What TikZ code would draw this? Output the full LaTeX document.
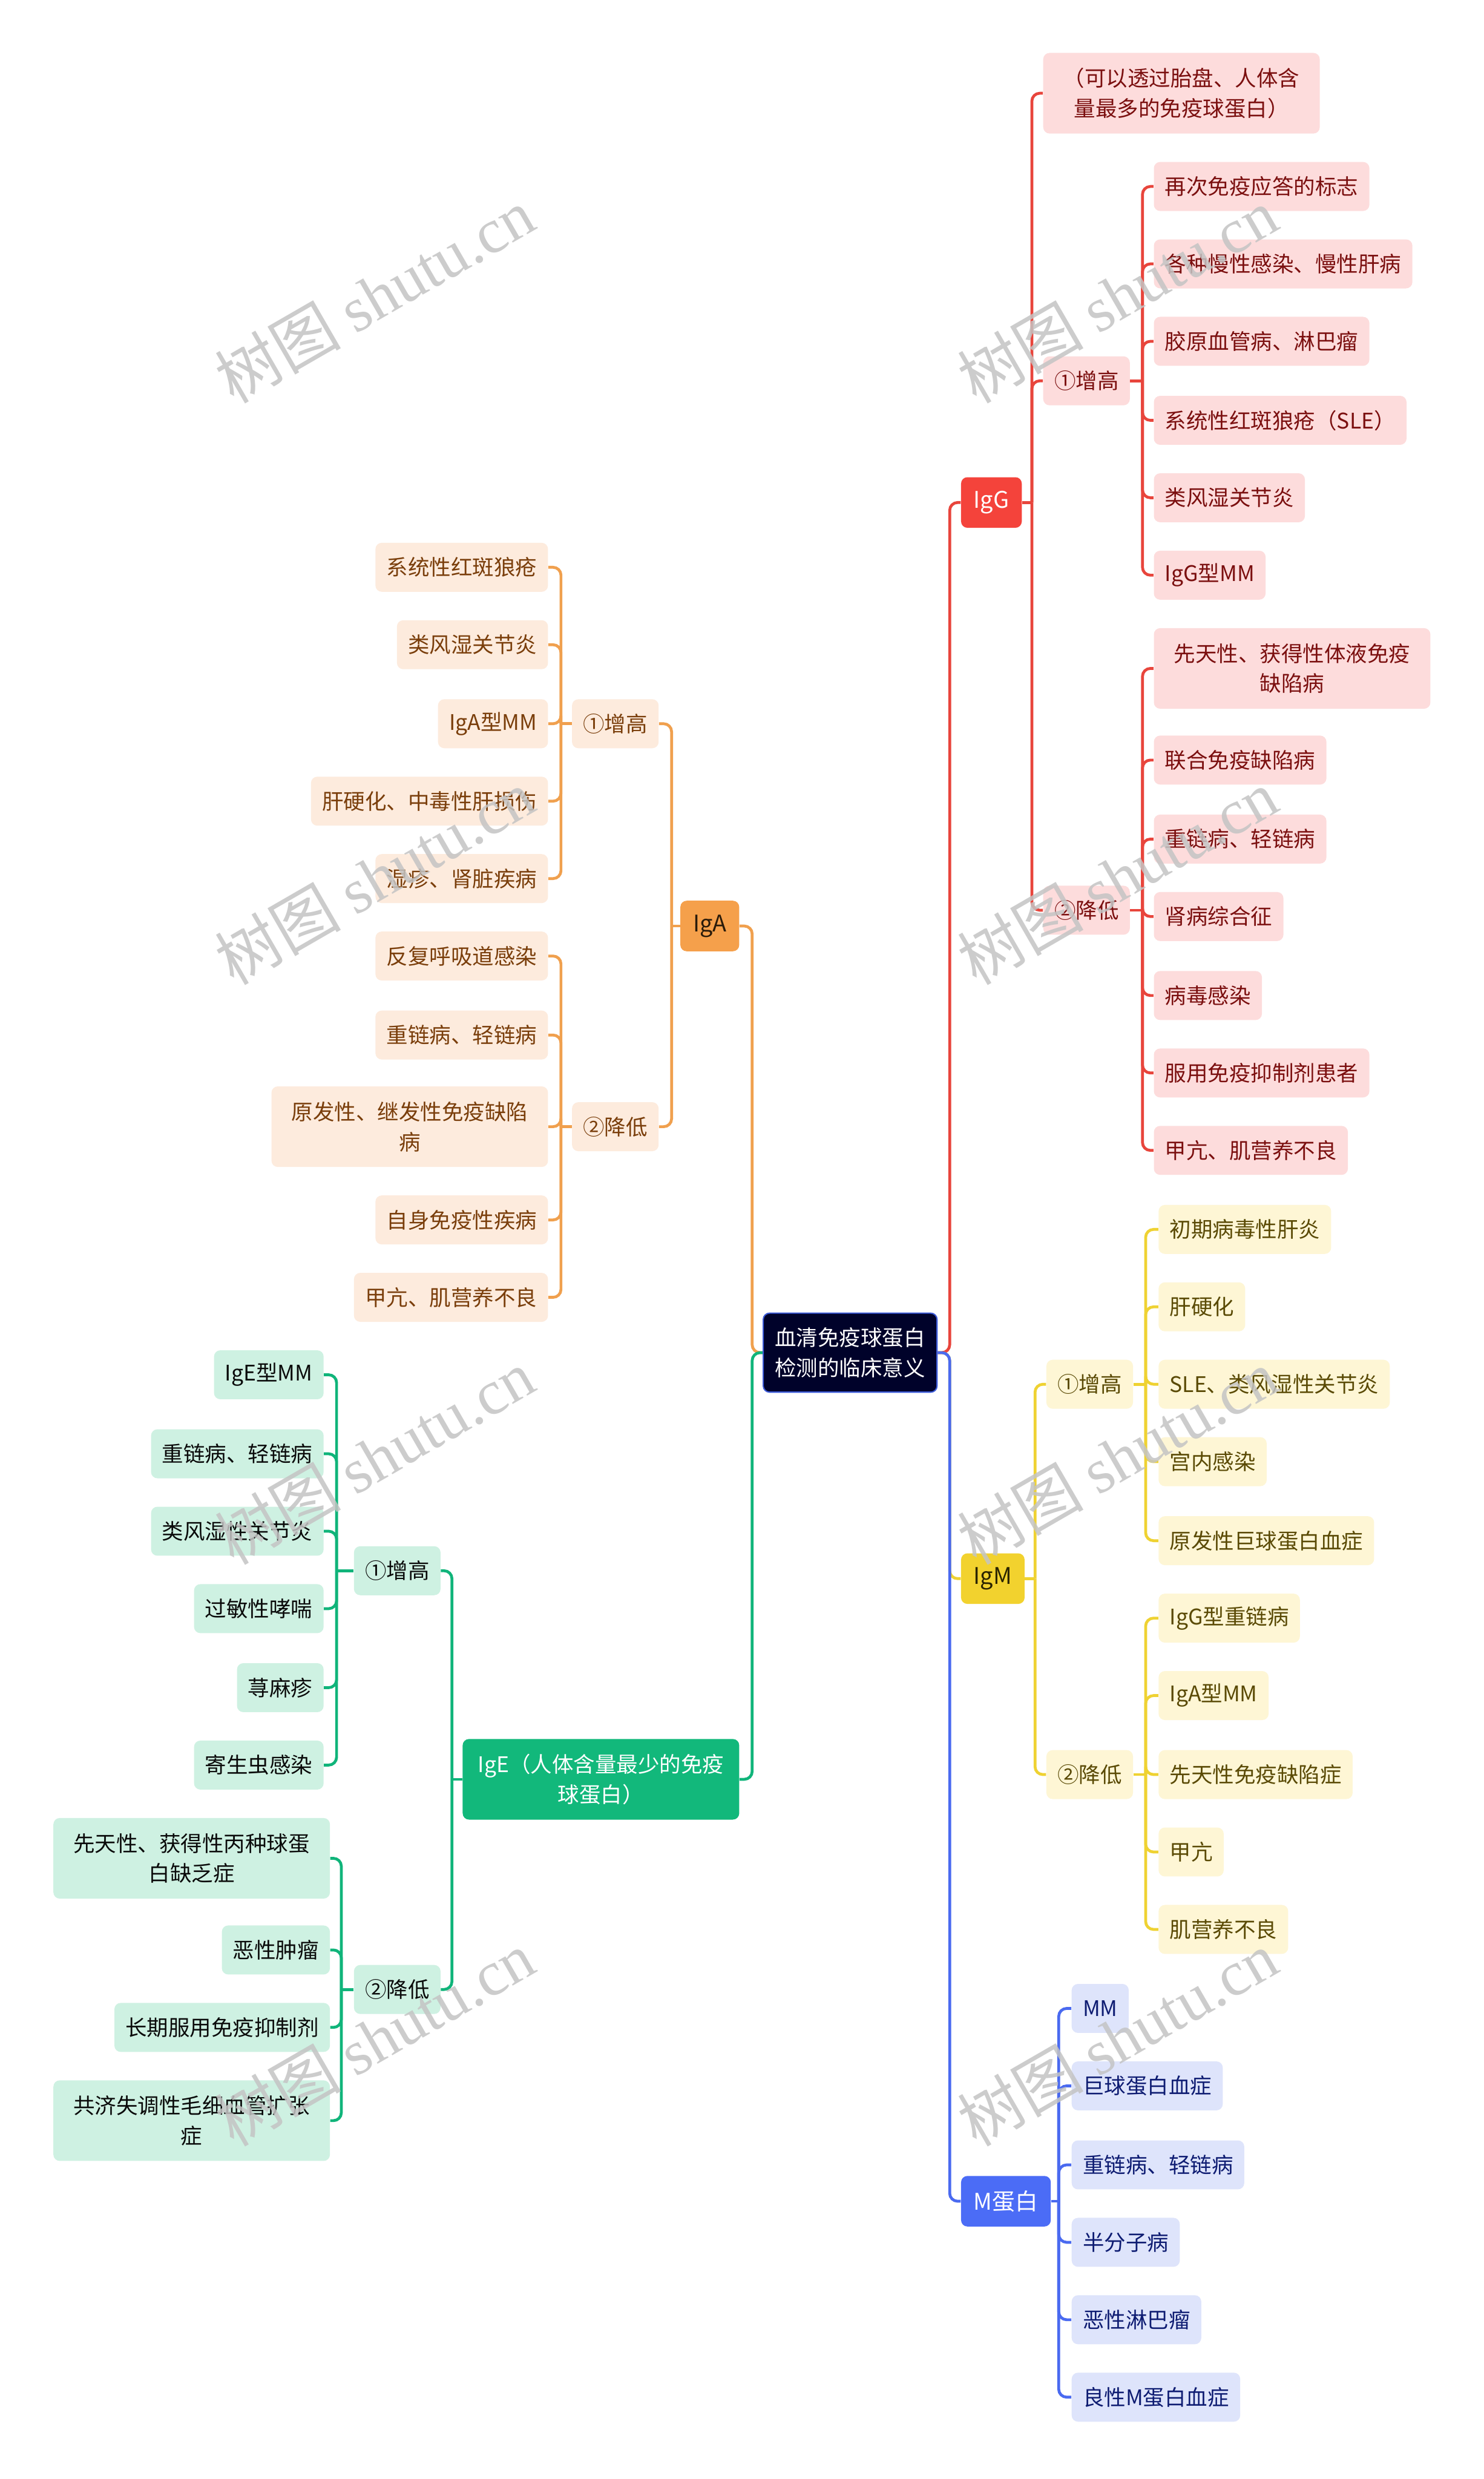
\documentclass[tikz,border=0pt]{standalone}
\usepackage{fontspec}
\setmainfont{Noto Sans CJK SC}
\newfontfamily\wmlatin{Liberation Serif}
\newfontfamily\wmcjk{Noto Sans CJK SC}
\usetikzlibrary{backgrounds}
\definecolor{cFill}{HTML}{00022A}
\definecolor{cBord}{HTML}{3D5BD9}
\definecolor{rLine}{HTML}{E8453C}
\definecolor{rMain}{HTML}{F4433B}
\definecolor{rLeaf}{HTML}{FDDCDC}
\definecolor{rText}{HTML}{7B0F0F}
\definecolor{oLine}{HTML}{F0A04E}
\definecolor{oMain}{HTML}{F5A04B}
\definecolor{oLeaf}{HTML}{FDEBDD}
\definecolor{oText}{HTML}{7A3E0B}
\definecolor{oMText}{HTML}{2A1B0A}
\definecolor{yLine}{HTML}{EFD232}
\definecolor{yMain}{HTML}{F2D22E}
\definecolor{yLeaf}{HTML}{FEF6D5}
\definecolor{yText}{HTML}{5A4A05}
\definecolor{yMText}{HTML}{2A2400}
\definecolor{gLine}{HTML}{10B47A}
\definecolor{gMain}{HTML}{12B87B}
\definecolor{gLeaf}{HTML}{CEF1E2}
\definecolor{gText}{HTML}{0A0A0A}
\definecolor{bLine}{HTML}{4A6AF0}
\definecolor{bMain}{HTML}{4B6CF6}
\definecolor{bLeaf}{HTML}{DEE4FB}
\definecolor{bText}{HTML}{0E1C72}
\definecolor{wmGray}{HTML}{C4C4C4}
\newcommand{\nfs}{\fontsize{13.6}{19}\selectfont}
\newcommand{\mfs}{\fontsize{14.5}{19}\selectfont}
\tikzset{
  box/.style={rounded corners=4pt, inner xsep=7pt, inner ysep=0pt, minimum height=31pt, font=\nfs, align=center},
  twoline/.style={minimum width=175pt, minimum height=51pt},
  mainbox/.style={rounded corners=4pt, inner xsep=8pt, inner ysep=0pt, minimum height=32pt, font=\mfs, align=center},
  rleaf/.style={box, fill=rLeaf, text=rText},
  oleaf/.style={box, fill=oLeaf, text=oText},
  yleaf/.style={box, fill=yLeaf, text=yText},
  gleaf/.style={box, fill=gLeaf, text=gText},
  bleaf/.style={box, fill=bLeaf, text=bText},
  con/.style={line width=1.8pt, rounded corners=5pt},
  conR/.style={con, draw=rLine},
  conO/.style={con, draw=oLine},
  conY/.style={con, draw=yLine},
  conG/.style={con, draw=gLine},
  conB/.style={con, draw=bLine},
  wm/.style={text=wmGray, opacity=0.85, rotate=30, inner sep=0pt},
}
\begin{document}
\begin{tikzpicture}[x=1pt,y=-1pt]
\useasboundingbox (0,0) rectangle (939,1568.8);

% centre
\node[rounded corners=4pt, fill=cFill, draw=cBord, line width=0.8pt, text=white, minimum width=110pt, minimum height=50pt, align=center, font=\nfs, inner sep=0pt] (C) at (538,856) {血清免疫球蛋白\\检测的临床意义};

% main branches
\node[mainbox, fill=rMain, text=white, anchor=west] (G) at (608,318) {IgG};
\node[mainbox, fill=yMain, text=yMText, anchor=west] (M) at (608,999) {IgM};
\node[mainbox, fill=bMain, text=white, anchor=west] (P) at (608,1393) {M蛋白};
\node[mainbox, fill=oMain, text=oMText, anchor=east] (A) at (468,586) {IgA};
\node[mainbox, fill=gMain, text=white, anchor=east, font=\nfs, inner xsep=6pt, minimum width=175pt, minimum height=51pt] (E) at (468,1126) {IgE（人体含量最少的免疫\\球蛋白）};

% IgG
\node[rleaf, twoline, anchor=west] (g0) at (660,59) {（可以透过胎盘、人体含\\量最多的免疫球蛋白）};
\node[rleaf, anchor=west] (g1) at (660,241) {①增高};
\node[rleaf, anchor=west] (g2) at (660,576) {②降低};
\node[rleaf, anchor=west] (gl1) at (730,118) {再次免疫应答的标志};
\node[rleaf, anchor=west] (gl2) at (730,167) {各种慢性感染、慢性肝病};
\node[rleaf, anchor=west] (gl3) at (730,216) {胶原血管病、淋巴瘤};
\node[rleaf, anchor=west] (gl4) at (730,266) {系统性红斑狼疮（SLE）};
\node[rleaf, anchor=west] (gl5) at (730,315) {类风湿关节炎};
\node[rleaf, anchor=west] (gl6) at (730,364) {IgG型MM};
\node[rleaf, twoline, anchor=west] (gm1) at (730,423) {先天性、获得性体液免疫\\缺陷病};
\node[rleaf, anchor=west] (gm2) at (730,481) {联合免疫缺陷病};
\node[rleaf, anchor=west] (gm3) at (730,531) {重链病、轻链病};
\node[rleaf, anchor=west] (gm4) at (730,580) {肾病综合征};
\node[rleaf, anchor=west] (gm5) at (730,630) {病毒感染};
\node[rleaf, anchor=west] (gm6) at (730,679) {服用免疫抑制剂患者};
\node[rleaf, anchor=west] (gm7) at (730,728) {甲亢、肌营养不良};

% IgA
\node[oleaf, anchor=east] (a1) at (417,458) {①增高};
\node[oleaf, anchor=east] (a2) at (417,713) {②降低};
\node[oleaf, anchor=east] (al1) at (347,359) {系统性红斑狼疮};
\node[oleaf, anchor=east] (al2) at (347,408) {类风湿关节炎};
\node[oleaf, anchor=east] (al3) at (347,458) {IgA型MM};
\node[oleaf, anchor=east] (al4) at (347,507) {肝硬化、中毒性肝损伤};
\node[oleaf, anchor=east] (al5) at (347,556) {湿疹、肾脏疾病};
\node[oleaf, anchor=east] (am1) at (347,605) {反复呼吸道感染};
\node[oleaf, anchor=east] (am2) at (347,655) {重链病、轻链病};
\node[oleaf, twoline, anchor=east] (am3) at (347,713) {原发性、继发性免疫缺陷\\病};
\node[oleaf, anchor=east] (am4) at (347,772) {自身免疫性疾病};
\node[oleaf, anchor=east] (am5) at (347,821) {甲亢、肌营养不良};

% IgM
\node[yleaf, anchor=west] (m1) at (662,876) {①增高};
\node[yleaf, anchor=west] (m2) at (662,1123) {②降低};
\node[yleaf, anchor=west] (ml1) at (733,778) {初期病毒性肝炎};
\node[yleaf, anchor=west] (ml2) at (733,827) {肝硬化};
\node[yleaf, anchor=west] (ml3) at (733,876) {SLE、类风湿性关节炎};
\node[yleaf, anchor=west] (ml4) at (733,925) {宫内感染};
\node[yleaf, anchor=west] (ml5) at (733,975) {原发性巨球蛋白血症};
\node[yleaf, anchor=west] (mm1) at (733,1024) {IgG型重链病};
\node[yleaf, anchor=west] (mm2) at (733,1073) {IgA型MM};
\node[yleaf, anchor=west] (mm3) at (733,1123) {先天性免疫缺陷症};
\node[yleaf, anchor=west] (mm4) at (733,1172) {甲亢};
\node[yleaf, anchor=west] (mm5) at (733,1221) {肌营养不良};

% M protein
\node[bleaf, anchor=west] (p1) at (678,1271) {MM};
\node[bleaf, anchor=west] (p2) at (678,1320) {巨球蛋白血症};
\node[bleaf, anchor=west] (p3) at (678,1370) {重链病、轻链病};
\node[bleaf, anchor=west] (p4) at (678,1419) {半分子病};
\node[bleaf, anchor=west] (p5) at (678,1468) {恶性淋巴瘤};
\node[bleaf, anchor=west] (p6) at (678,1517) {良性M蛋白血症};

% IgE
\node[gleaf, anchor=east] (e1) at (279,994) {①增高};
\node[gleaf, anchor=east] (e2) at (279,1259) {②降低};
\node[gleaf, anchor=east] (el1) at (205,870) {IgE型MM};
\node[gleaf, anchor=east] (el2) at (205,920) {重链病、轻链病};
\node[gleaf, anchor=east] (el3) at (205,969) {类风湿性关节炎};
\node[gleaf, anchor=east] (el4) at (205,1018) {过敏性哮喘};
\node[gleaf, anchor=east] (el5) at (205,1068) {荨麻疹};
\node[gleaf, anchor=east] (el6) at (205,1117) {寄生虫感染};
\node[gleaf, twoline, anchor=east] (em1) at (209,1176) {先天性、获得性丙种球蛋\\白缺乏症};
\node[gleaf, anchor=east] (em2) at (209,1234) {恶性肿瘤};
\node[gleaf, anchor=east] (em3) at (209,1283) {长期服用免疫抑制剂};
\node[gleaf, twoline, anchor=east] (em4) at (209,1342) {共济失调性毛细血管扩张\\症};

% junctions
\coordinate (jR) at (601,856);
\coordinate (jL) at (476,856);
\coordinate (jG) at (653,318);
\coordinate (jG1) at (723,241);
\coordinate (jG2) at (723,576);
\coordinate (jA) at (425,586);
\coordinate (jA1) at (355,458);
\coordinate (jA2) at (355,713);
\coordinate (jM) at (655,999);
\coordinate (jM1) at (725,876);
\coordinate (jM2) at (725,1123);
\coordinate (jP) at (670,1393);
\coordinate (jE) at (286,1126);
\coordinate (jE1) at (213,994);
\coordinate (jE2) at (216,1259);

\begin{scope}[on background layer]
\fill[white] (0,0) rectangle (939,1568.8);
% centre to main branches
\draw[conR] (C.east) -- (jR) |- (G.west);
\draw[conY] (C.east) -- (jR) |- (M.west);
\draw[conB] (C.east) -- (jR) |- (P.west);
\draw[conO] (C.west) -- (jL) |- (A.east);
\draw[conG] (C.west) -- (jL) |- (E.east);
% IgG
\draw[conR] (G.east) -- (jG);
\foreach \n in {g0,g1,g2} \draw[conR] (jG) |- (\n.west);
\draw[conR] (g1.east) -- (jG1);
\foreach \n in {gl1,gl2,gl3,gl4,gl5,gl6} \draw[conR] (jG1) |- (\n.west);
\draw[conR] (g2.east) -- (jG2);
\foreach \n in {gm1,gm2,gm3,gm4,gm5,gm6,gm7} \draw[conR] (jG2) |- (\n.west);
% IgA
\draw[conO] (A.west) -- (jA);
\foreach \n in {a1,a2} \draw[conO] (jA) |- (\n.east);
\draw[conO] (a1.west) -- (jA1);
\foreach \n in {al1,al2,al3,al4,al5} \draw[conO] (jA1) |- (\n.east);
\draw[conO] (a2.west) -- (jA2);
\foreach \n in {am1,am2,am3,am4,am5} \draw[conO] (jA2) |- (\n.east);
% IgM
\draw[conY] (M.east) -- (jM);
\foreach \n in {m1,m2} \draw[conY] (jM) |- (\n.west);
\draw[conY] (m1.east) -- (jM1);
\foreach \n in {ml1,ml2,ml3,ml4,ml5} \draw[conY] (jM1) |- (\n.west);
\draw[conY] (m2.east) -- (jM2);
\foreach \n in {mm1,mm2,mm3,mm4,mm5} \draw[conY] (jM2) |- (\n.west);
% M protein
\draw[conB] (P.east) -- (jP);
\foreach \n in {p1,p2,p3,p4,p5,p6} \draw[conB] (jP) |- (\n.west);
% IgE
\draw[conG] (E.west) -- (jE);
\foreach \n in {e1,e2} \draw[conG] (jE) |- (\n.east);
\draw[conG] (e1.west) -- (jE1);
\foreach \n in {el1,el2,el3,el4,el5,el6} \draw[conG] (jE1) |- (\n.east);
\draw[conG] (e2.west) -- (jE2);
\foreach \n in {em1,em2,em3,em4} \draw[conG] (jE2) |- (\n.east);
\end{scope}

% watermarks
\foreach \wx/\wy [count=\i] in {237/187,707/187,237/555,707/555,237/922,707/922,237/1290,707/1290}
  \node[wm] (wm\i) at (\wx,\wy) {\fontsize{40}{40}\selectfont\wmcjk 树图 \wmlatin shutu.cn};
\end{tikzpicture}
\end{document}
